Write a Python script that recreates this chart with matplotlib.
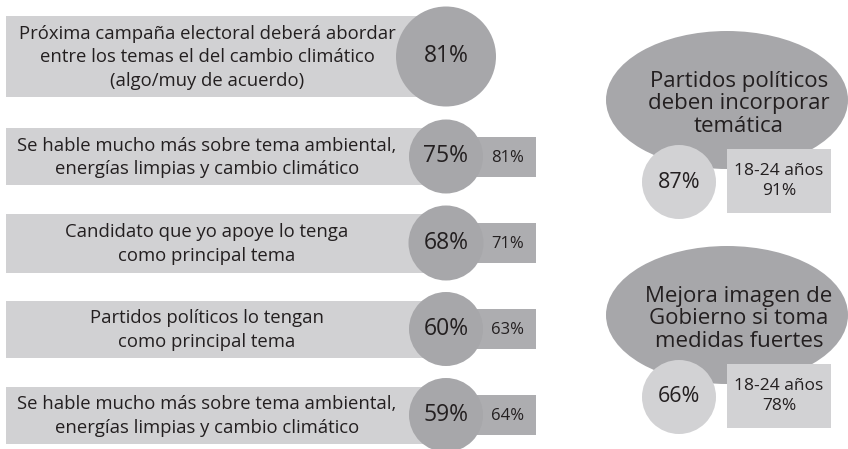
import matplotlib
matplotlib.use("Agg")
import matplotlib.pyplot as plt
from matplotlib.patches import Rectangle, Circle, Ellipse

# ---- data ----
labels = [
    "Próxima campaña electoral deberá abordar\nentre los temas el del cambio climático\n(algo/muy de acuerdo)",
    "Se hable mucho más sobre tema ambiental,\nenergías limpias y cambio climático",
    "Candidato que yo apoye lo tenga\ncomo principal tema",
    "Partidos políticos lo tengan\ncomo principal tema",
    "Se hable mucho más sobre tema ambiental,\nenergías limpias y cambio climático",
]
total_pct = [81, 75, 68, 60, 59]
youth_pct = [None, 81, 71, 63, 64]

right_titles = [
    "Partidos políticos\ndeben incorporar\ntemática",
    "Mejora imagen de\nGobierno si toma\nmedidas fuertes",
]
right_total = [87, 66]
right_youth = [91, 78]
youth_label = "18-24 años"

# ---- style ----
BAR = "#d1d1d3"
DARK = "#a7a7aa"
BOX = "#adadb0"
LIGHT = "#d2d2d4"
TXT = "#231f20"
FONT = "Open Sans"

W, H = 848, 449
fig = plt.figure(figsize=(W / 100, H / 100), dpi=100)
ax = fig.add_axes([0, 0, 1, 1])
ax.set_xlim(0, W)
ax.set_ylim(H, 0)
ax.set_aspect("equal")
ax.axis("off")

# left rows layout (pixel space)
row_centers = [56.5, 156.5, 243, 329, 415]
row_heights = [81, 57, 59, 57, 57]
circle_r = [50, 37, 37.5, 37, 37]
bar_x0, circ_x = 6, 446
box_x0, box_x1, box_h = 480, 536, 40

for i, lab in enumerate(labels):
    yc = row_centers[i]
    h = row_heights[i]
    ax.add_patch(Rectangle((bar_x0, yc - h / 2), circ_x - bar_x0, h, color=BAR, lw=0, zorder=1))
    if youth_pct[i] is not None:
        ax.add_patch(Rectangle((circ_x, yc - box_h / 2), box_x1 - circ_x, box_h, color=BOX, lw=0, zorder=1))
        ax.text(508, yc + 1, f"{youth_pct[i]}%", ha="center", va="center",
                fontsize=12, color=TXT, family=FONT, zorder=3)
    ax.add_patch(Circle((circ_x, yc), circle_r[i], color=DARK, lw=0, zorder=2))
    ax.text(circ_x, yc, f"{total_pct[i]}%", ha="center", va="center", fontsize=16.5,
            color=TXT, family=FONT, zorder=3)
    ax.text(207, yc + 1, lab, ha="center", va="center", fontsize=13.3, color=TXT,
            family=FONT, linespacing=1.42, zorder=3)

# right side
ell_cy = [100, 315]
for j, title in enumerate(right_titles):
    cy = ell_cy[j]
    ax.add_patch(Ellipse((727, cy), 242, 138, color=DARK, lw=0, zorder=1))
    ax.text(739, cy + 4, title, ha="center", va="center", fontsize=16, color=TXT,
            family=FONT, linespacing=1.12, zorder=3)
    ccy = cy + 82
    ax.add_patch(Circle((679, ccy), 37, color=LIGHT, lw=0, zorder=2))
    ax.text(679, ccy, f"{right_total[j]}%", ha="center", va="center", fontsize=15.5,
            color=TXT, family=FONT, zorder=3)
    ax.add_patch(Rectangle((727, ccy - 33), 104, 64, color=LIGHT, lw=0, zorder=2))
    ax.text(779, ccy - 1, f"{youth_label}\n{right_youth[j]}%", ha="center", va="center",
            fontsize=12.5, color=TXT, family=FONT, linespacing=1.35, zorder=3)

fig.savefig("out.png", dpi=100)
